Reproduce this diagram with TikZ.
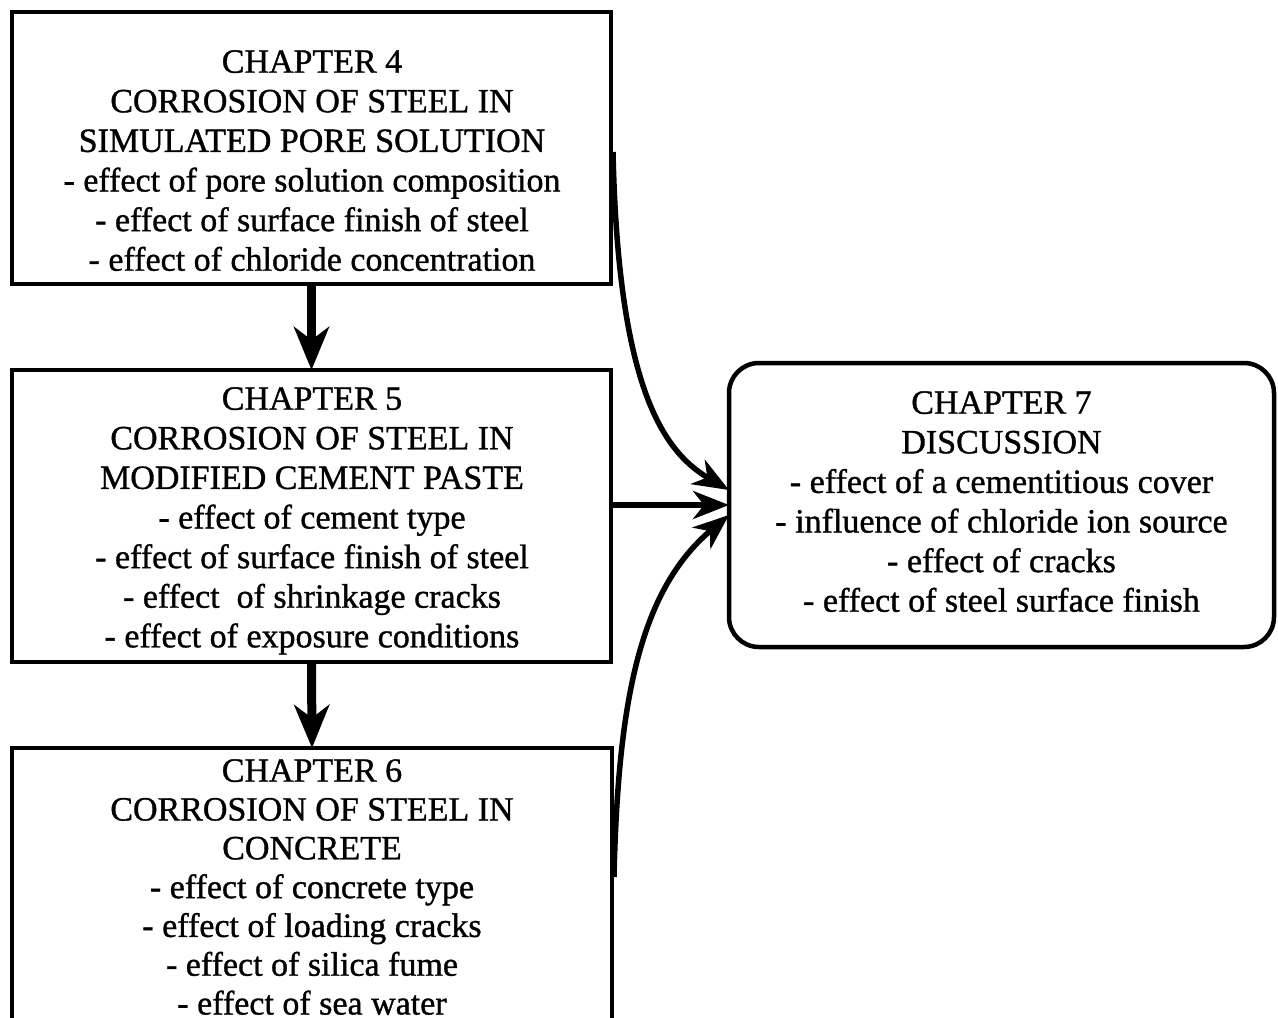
\documentclass[tikz,border=0pt]{standalone}
\usepackage{fontspec}
\setmainfont{Liberation Serif}[FakeBold=1.0]
\usetikzlibrary{arrows.meta,calc}
\begin{document}
\begin{tikzpicture}[x=1pt,y=-1pt,
  boxstyle/.style={draw=black,line width=4.5pt,inner sep=0pt,outer sep=0pt},
  txt/.style={align=center,inner sep=0pt,anchor=north,font=\fontsize{34}{39.6}\selectfont},
  vert/.style={line width=9pt,-{Stealth[length=43pt,width=35pt,inset=13pt]}},
  curv/.style={line width=5.5pt,-{Stealth[length=36pt,width=28pt,inset=11pt]}}
]
\useasboundingbox[fill=white] (0,0) rectangle (1278,1018);
\node[boxstyle,minimum width=599pt,minimum height=272pt] (b4) at (311.5,148) {};
\node[boxstyle,minimum width=599pt,minimum height=292pt] (b5) at (311.5,516) {};
\node[boxstyle,minimum width=600pt,minimum height=272pt] (b6) at (312,884) {};
\node[boxstyle,rounded corners=30pt,minimum width=545pt,minimum height=284pt] (b7) at (1001.5,505) {};

\node[txt] (t4) at (312,50) {CHAPTER 4\\CORROSION OF STEEL IN\\SIMULATED PORE SOLUTION\\- effect of pore solution composition\\- effect of surface finish of steel\\- effect of chloride concentration};
\node[txt] (t5) at (312,387) {CHAPTER 5\\CORROSION OF STEEL IN\\MODIFIED CEMENT PASTE\\- effect of cement type\\- effect of surface finish of steel\\- effect~ of shrinkage cracks\\- effect of exposure conditions};
\node[txt,font=\fontsize{34}{38.8}\selectfont] (t6) at (312,759) {CHAPTER 6\\CORROSION OF STEEL IN\\CONCRETE\\- effect of concrete type\\- effect of loading cracks\\- effect of silica fume\\- effect of sea water};
\node[txt] (t7) at (1001.5,391) {CHAPTER 7\\DISCUSSION\\- effect of a cementitious cover\\- influence of chloride ion source\\- effect of cracks\\- effect of steel surface finish};

\draw[vert] (b4.south) -- (b5.north);
\draw[vert] (b5.south) -- (b6.north);
\draw[curv] (b5.east |- b7.west) -- (b7.west);
\draw[curv] ($(b4.east)+(2,4)$) .. controls (618,380) and (660,450) .. ($(b7.west)+(0,-15)$);
\draw[curv] ($(b6.east)+(2,-7)$) .. controls (618,700) and (640,590) .. ($(b7.west)+(0,10)$);
\end{tikzpicture}
\end{document}
